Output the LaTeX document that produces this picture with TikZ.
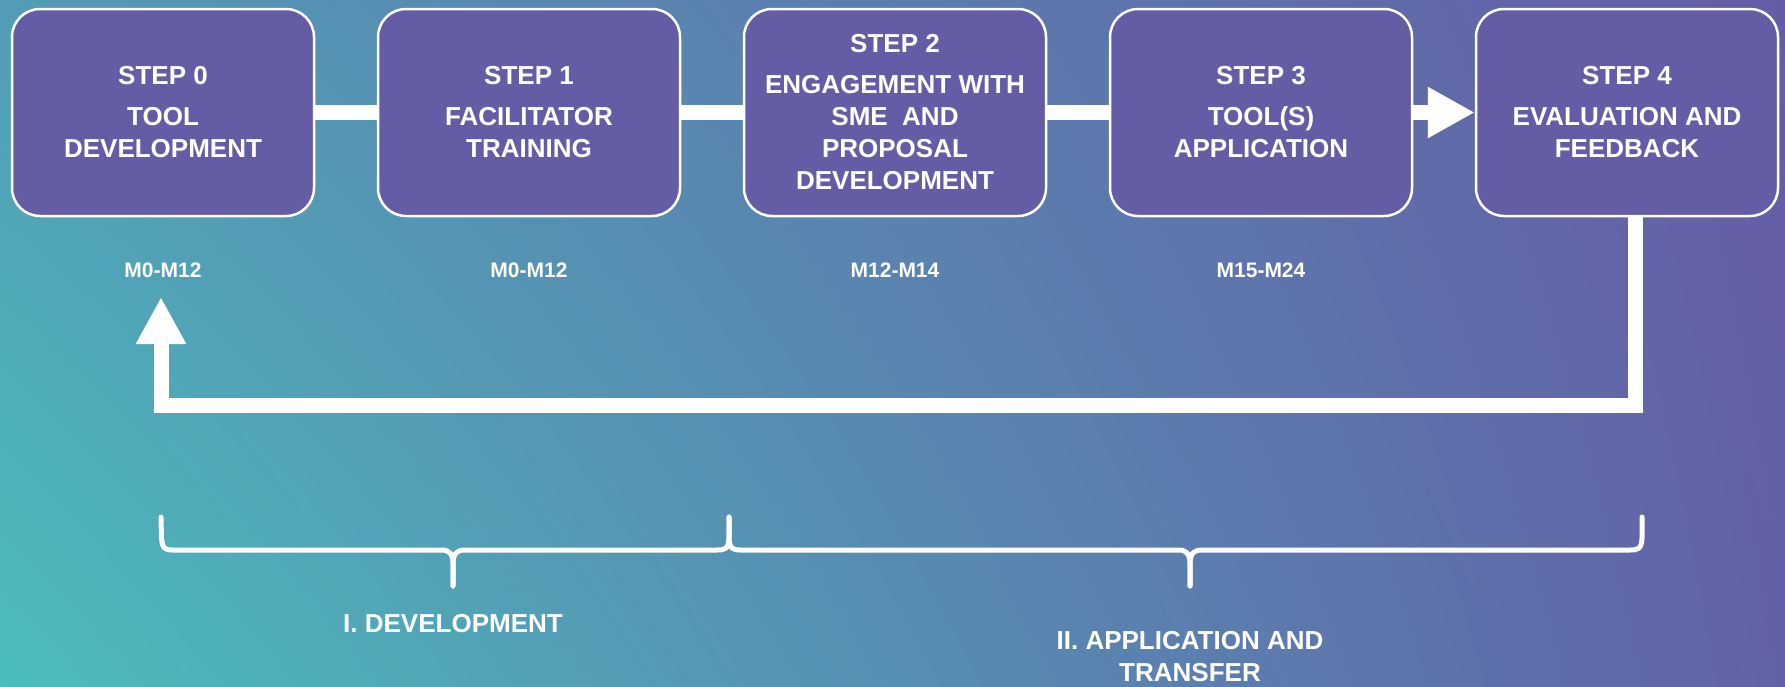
\documentclass[tikz,border=0pt]{standalone}
\usepackage{fontspec}
\setmainfont{Liberation Sans}
\usetikzlibrary{arrows.meta,calc,shadings}
\definecolor{boxfill}{HTML}{655CA6}
\definecolor{bgLL}{HTML}{4BBDBC}
\definecolor{bgUL}{HTML}{529CB5}
\definecolor{bgLR}{HTML}{6261A8}
\definecolor{bgUR}{HTML}{655CA6}
\begin{document}
\begin{tikzpicture}[x=1pt,y=-1pt,
  stepbox/.style={draw=white, line width=2.5pt, fill=boxfill, rounded corners=28pt,
    minimum width=302pt, minimum height=207pt, inner sep=0pt,
    text=white, font=\fontsize{26}{32}\selectfont\bfseries, align=center},
  period/.style={text=white, font=\fontsize{21}{25}\selectfont\bfseries, inner sep=0pt},
  phase/.style={text=white, font=\fontsize{26}{32}\selectfont\bfseries, align=center, inner sep=0pt},
  link/.style={white, line width=15pt},
  bracepath/.style={white, line width=5pt, line cap=round, line join=round}]
\useasboundingbox (0,0) rectangle (1785,686);
\shade[upper left=bgUL, upper right=bgUR, lower left=bgLL, lower right=bgLR] (0,0) rectangle (1785,686);

% step boxes
\node[stepbox] (s0) at (163,112.5) {STEP 0\\[9pt]TOOL\\DEVELOPMENT};
\node[stepbox] (s1) at (529,112.5) {STEP 1\\[9pt]FACILITATOR\\TRAINING};
\node[stepbox] (s2) at (895,112.5) {STEP 2\\[9pt]ENGAGEMENT WITH\\SME\ \ AND\\PROPOSAL\\DEVELOPMENT};
\node[stepbox] (s3) at (1261,112.5) {STEP 3\\[9pt]TOOL(S)\\APPLICATION};
\node[stepbox] (s4) at (1627,112.5) {STEP 4\\[9pt]EVALUATION AND\\FEEDBACK};

% connectors
\draw[link] (s0.east) -- (s1.west);
\draw[link] (s1.east) -- (s2.west);
\draw[link] (s2.east) -- (s3.west);
\draw[link, -{Triangle[length=47pt,width=48pt]}] (s3.east) -- (s4.west);

% feedback loop
\coordinate (fbB) at (161,405);
\coordinate (fbT) at (161,297);
\draw[link, line join=miter, -{Triangle[length=47pt,width=47pt]}]
  ([xshift=8pt]s4.south) |- (fbB) -- (fbT);

% periods
\node[period, anchor=base] (p0) at (163,277) {M0-M12};
\node[period, anchor=base] (p1) at (529,277) {M0-M12};
\node[period, anchor=base] (p2) at (895,277) {M12-M14};
\node[period, anchor=base] (p3) at (1261,277) {M15-M24};

% braces
\coordinate (b1L) at (161,517);
\coordinate (b1M) at (453,586);
\coordinate (bJ) at (729,517);
\coordinate (b2M) at (1190,586);
\coordinate (b2R) at (1642,517);
\draw[bracepath] (b1L) -- (161.5,538) .. controls (162.5,549) and (165,550) .. (173,550)
  -- (441,550) .. controls (449,550) and (452.5,553) .. (453,563) -- (b1M);
\draw[bracepath] (b1M) -- (453,563) .. controls (453.5,553) and (457,550) .. (465,550)
  -- (717,550) .. controls (725,550) and (728.5,549) .. (729,538) -- (bJ);
\draw[bracepath] (bJ) -- (729,538) .. controls (729.5,549) and (733,550) .. (741,550)
  -- (1178,550) .. controls (1186,550) and (1189.5,553) .. (1190,563) -- (b2M);
\draw[bracepath] (b2M) -- (1190,563) .. controls (1190.5,553) and (1194,550) .. (1202,550)
  -- (1630,550) .. controls (1638,550) and (1641.5,549) .. (1642,538) -- (b2R);

% phase labels
\node[phase, anchor=base] (ph1) at (453,632) {I. DEVELOPMENT};
\node[phase, anchor=north] (ph2) at (1190,631.5) {II. APPLICATION AND\\TRANSFER};
\end{tikzpicture}
\end{document}
